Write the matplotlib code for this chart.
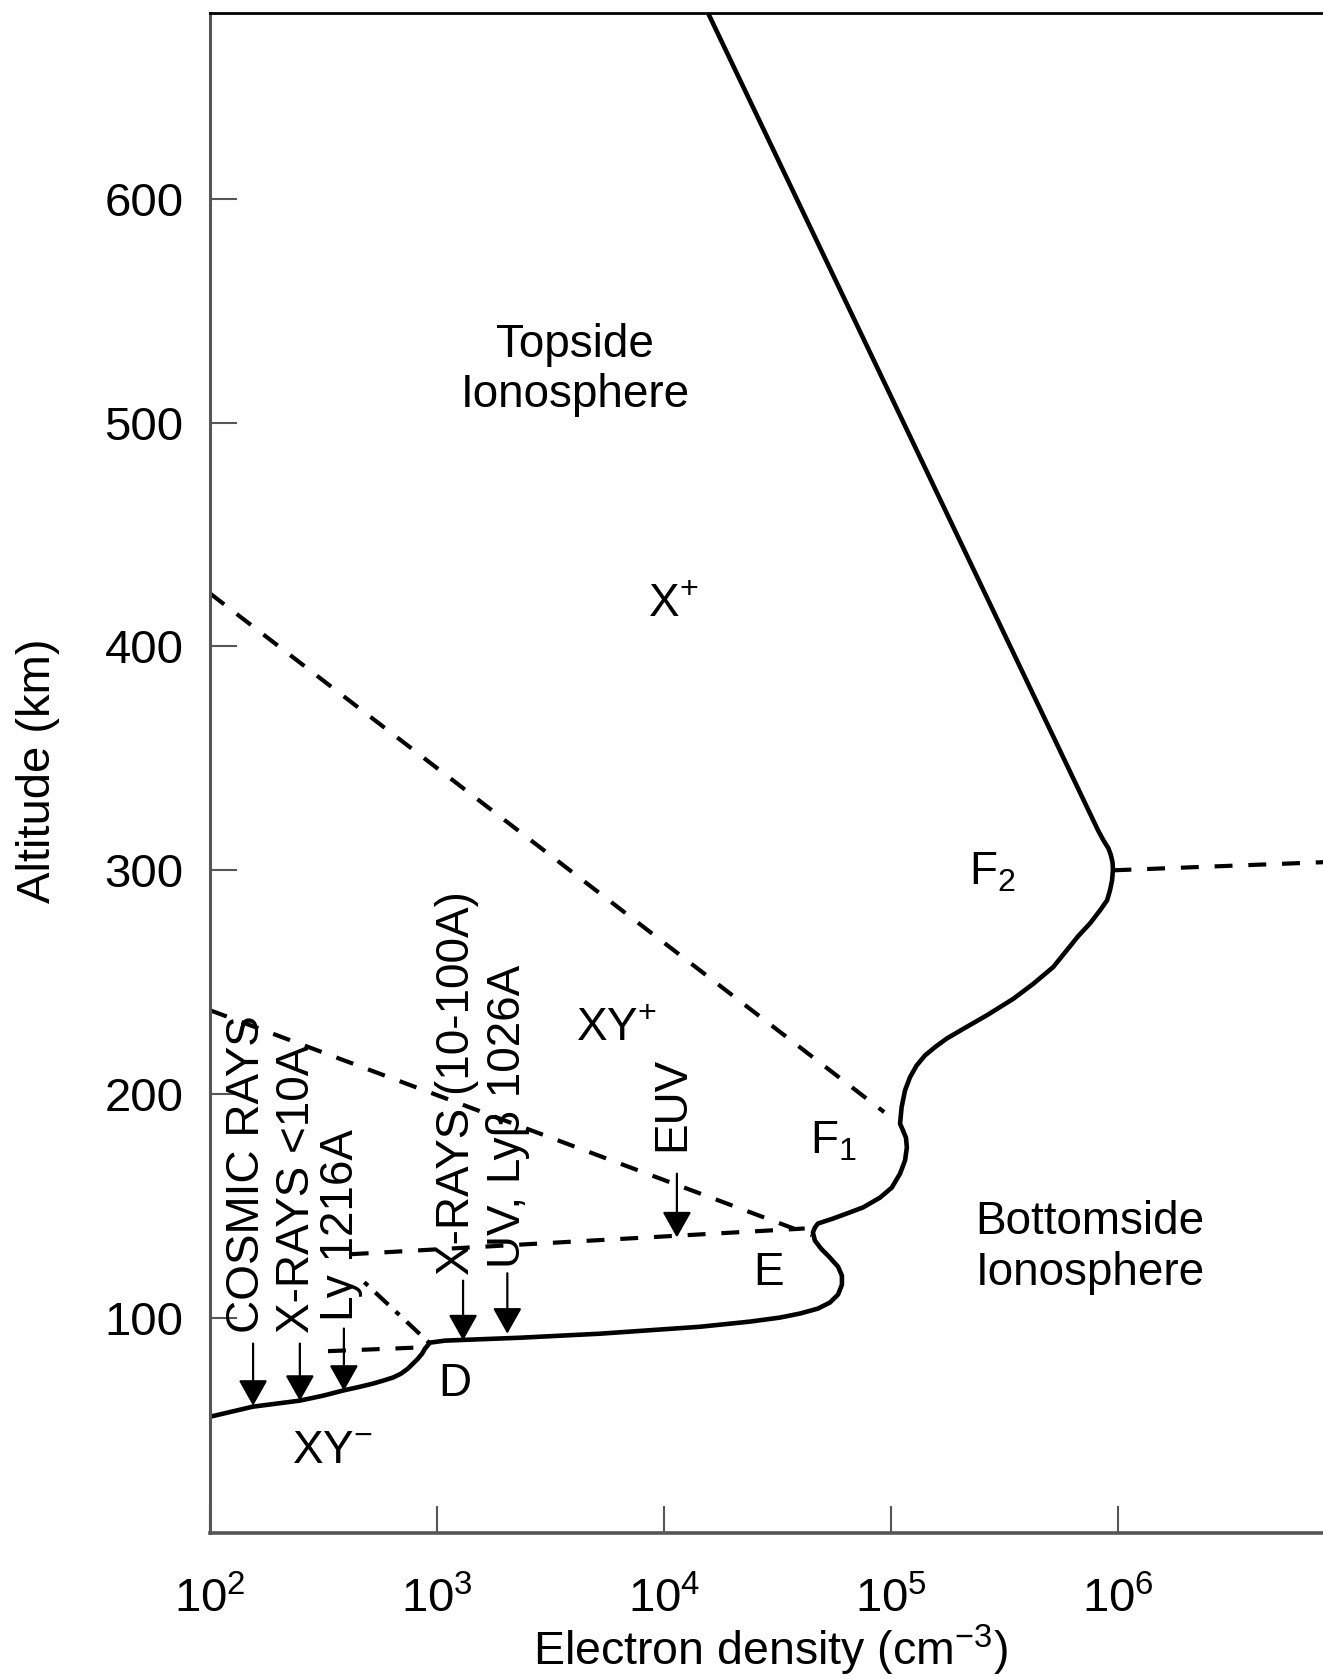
import matplotlib
matplotlib.use("Agg")
import matplotlib.pyplot as plt
from matplotlib.ticker import FixedLocator, NullLocator

plt.rcParams['font.family'] = ['Liberation Sans', 'DejaVu Sans']
plt.rcParams['mathtext.fontset'] = 'custom'
plt.rcParams['mathtext.rm'] = 'Liberation Sans'
plt.rcParams['mathtext.it'] = 'Liberation Sans:italic'

# electron density profile, log10(n) and altitude (km)
profile_logn = [2.000, 2.189, 2.396, 2.498, 2.586, 2.661, 2.718, 2.762, 2.806, 2.841,
                2.872, 2.894, 2.916, 2.934, 2.947, 2.969,
                3.035, 3.366, 3.718, 4.159, 4.379, 4.511,
                4.599, 4.678, 4.731, 4.767, 4.784, 4.784, 4.767, 4.731, 4.692, 4.665,
                4.656, 4.665, 4.678,
                4.744, 4.806, 4.877, 4.952, 5.004, 5.040, 5.062, 5.070, 5.066, 5.053,
                5.040,
                5.047, 5.062, 5.084, 5.113, 5.150, 5.194, 5.245, 5.319, 5.422, 5.539,
                5.627, 5.715, 5.774, 5.824, 5.877, 5.921, 5.952, 5.965, 5.974, 5.978,
                5.976, 5.969, 5.958, 5.936, 5.912, 4.194]
profile_alt = [55.9, 60.4, 63.1, 65.3, 67.6, 69.3, 70.7, 72.0, 73.4, 75.1,
               77.4, 79.6, 81.8, 84.0, 86.3, 89.0,
               89.9, 91.2, 93.0, 96.1, 98.4, 100.2,
               102.0, 104.2, 106.9, 110.5, 114.9, 118.9, 122.9, 127.0, 131.0, 134.6,
               138.2, 140.4, 142.2,
               144.4, 146.7, 149.4, 153.8, 158.3, 164.5, 170.4, 176.2, 180.6, 183.8,
               186.8,
               194.2, 201.7, 207.6, 212.8, 217.3, 221.0, 224.8, 229.2, 235.2, 242.6,
               249.3, 256.8, 264.2, 270.5, 276.3, 282.1, 286.6, 291.1, 295.5, 300.4,
               303.6, 306.7, 309.8, 313.4, 317.9, 683.0]

# dashed boundaries (log10 n, km)
upper_bound_logn = [2.0, 4.97]
upper_bound_alt = [423.7, 192.0]
mid_bound_logn = [2.0, 4.65]
mid_bound_alt = [237.5, 137.0]
e_base_logn = [2.62, 4.62]
e_base_alt = [128.5, 140.0]
d_top_logn = [2.52, 2.96]
d_top_alt = [85.2, 87.0]
d_link_logn = [2.68, 2.965]
d_link_alt = [116.0, 89.0]
f2_peak_logn = [5.98, 7.0]
f2_peak_alt = [300.0, 304.0]

# ionising sources: label, log10 n, arrow start / tip altitude
sources = ['COSMIC RAYS', 'X-RAYS <10A', 'Ly 1216A', 'X-RAYS (10-100A)',
           'UV, Ly\u03b2 1026A', 'EUV']
src_logn = [2.19, 2.396, 2.59, 3.115, 3.31, 4.057]
src_top = [88.6, 88.6, 95.3, 116.7, 120.0, 164.5]
src_tip = [60.8, 63.0, 67.5, 90.0, 93.0, 136.0]
label_logn = [2.163, 2.383, 2.577, 3.088, 3.313, 4.035]
label_alt = [93.5, 93.5, 98.8, 119.0, 122.5, 174.8]

# region labels
regions = ['Topside\nIonosphere', 'X$^{+}$', 'XY$^{+}$', 'XY$^{-}$', 'F$_{2}$',
           'F$_{1}$', 'E', 'D', 'Bottomside\nIonosphere']
region_logn = [3.61, 4.04, 3.79, 2.54, 5.445, 4.745, 4.46, 3.08, 5.876]
region_alt = [523.5, 418.5, 229.0, 40.7, 299.0, 179.0, 120.0, 70.7, 131.5]

xticks = [1e2, 1e3, 1e4, 1e5, 1e6]
xticklabels = ['$10^{2}$', '$10^{3}$', '$10^{4}$', '$10^{5}$', '$10^{6}$']
yticks = [100, 200, 300, 400, 500, 600]

fig = plt.figure(figsize=(13.23, 16.79), dpi=100)
ax = fig.add_axes([0.1587, 0.0870, 0.8579, 0.9053])
ax.set_xscale('log')
ax.set_xlim(1e2, 1e7)
ax.set_ylim(4, 683)


def pw(vals):
    return [10 ** v for v in vals]


ax.plot(pw(profile_logn), profile_alt, color='black', lw=3.3,
        solid_joinstyle='round', solid_capstyle='butt')

dash = dict(color='black', lw=3.0, dashes=(4.3, 3.8))
ax.plot(pw(upper_bound_logn), upper_bound_alt, **dash)
ax.plot(pw(mid_bound_logn), mid_bound_alt, **dash)
ax.plot(pw(e_base_logn), e_base_alt, **dash)
ax.plot(pw(d_top_logn), d_top_alt, **dash)
ax.plot(pw(f2_peak_logn), f2_peak_alt, **dash)
ax.plot(pw(d_link_logn), d_link_alt, color='black', lw=3.0, dashes=(1.2, 2.4, 4.3, 2.4))

for i in range(len(sources)):
    ax.annotate('', xy=(10 ** src_logn[i], src_tip[i]), xytext=(10 ** src_logn[i], src_top[i]),
                arrowprops=dict(arrowstyle='-|>,head_length=0.8,head_width=0.45',
                                mutation_scale=20, lw=1.6, color='black',
                                shrinkA=0, shrinkB=0))
    ax.text(10 ** label_logn[i], label_alt[i], sources[i], rotation=90,
            ha='center', va='bottom', fontsize=33)

for i in range(len(regions)):
    ax.text(10 ** region_logn[i], region_alt[i], regions[i], ha='center', va='center',
            fontsize=33, linespacing=1.2, multialignment='center')

ax.xaxis.set_major_locator(FixedLocator(xticks))
ax.xaxis.set_minor_locator(NullLocator())
ax.set_xticklabels(xticklabels)
ax.set_yticks(yticks)

ax.tick_params(direction='in', length=19.5, width=1.5, color='#555555', labelsize=34)
ax.tick_params(axis='x', pad=32)
ax.tick_params(axis='y', pad=19)

ax.spines['right'].set_visible(False)
ax.spines['top'].set_linewidth(2.0)
ax.spines['left'].set_color('#555555')
ax.spines['left'].set_linewidth(2.2)
ax.spines['bottom'].set_color('#555555')
ax.spines['bottom'].set_linewidth(2.6)

ax.set_xlabel('Electron density (cm$^{-3}$)', fontsize=33.5, va='bottom')
ax.xaxis.set_label_coords(0.4934, -0.0954)
ax.set_ylabel('Altitude (km)', fontsize=34, va='center')
ax.yaxis.set_label_coords(-0.1515, 0.5013)

fig.savefig('out.png', dpi=100)
